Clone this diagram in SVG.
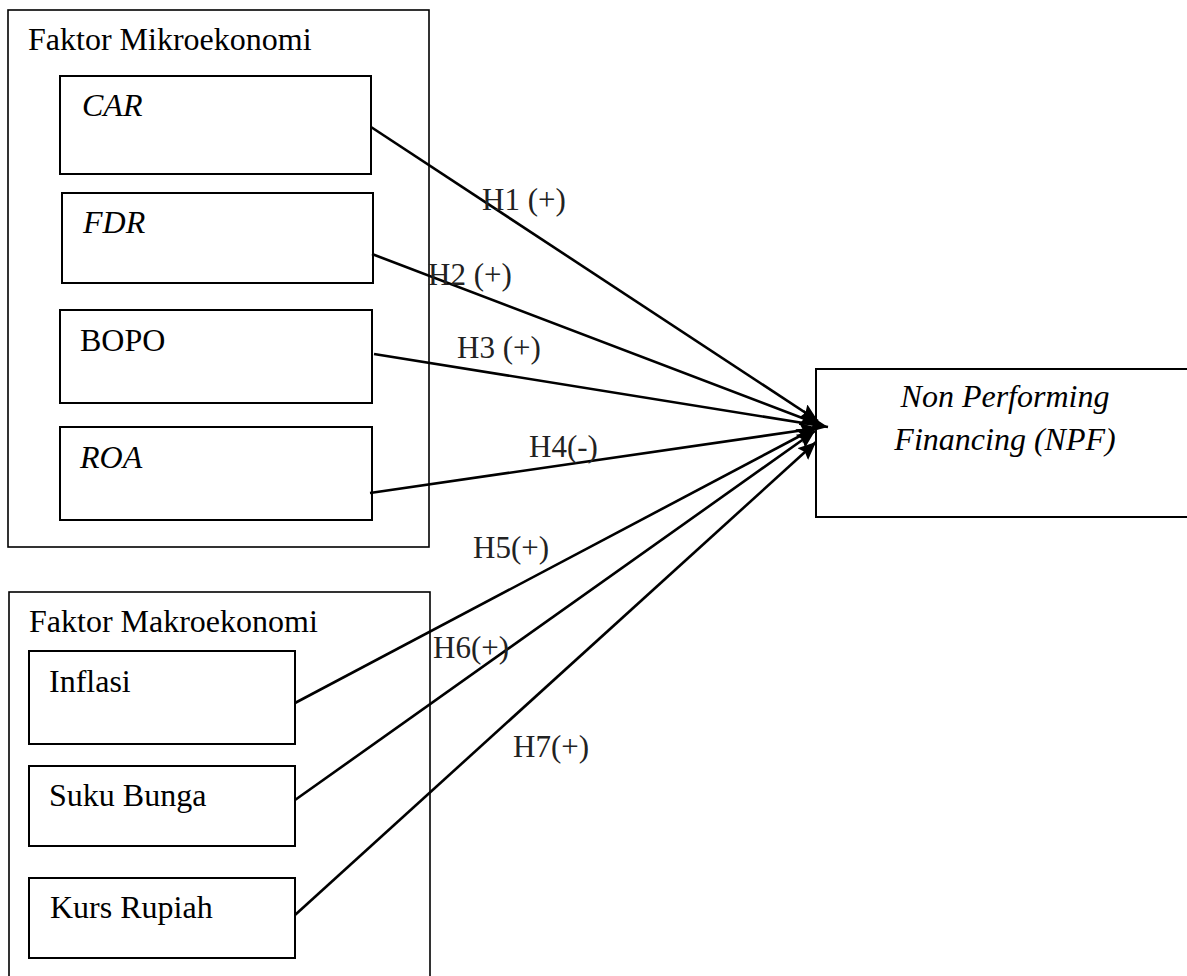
<svg xmlns="http://www.w3.org/2000/svg" width="1187" height="976" viewBox="0 0 1187 976">
  <defs>
    <style>
      .box { fill: #fff; stroke: #000; stroke-width: 2; }
      .grp { fill: none; stroke: #000; stroke-width: 1.6; }
      .t { font-family: "Liberation Serif", "Times New Roman", serif; font-size: 32px; fill: #000; }
      .i { font-style: italic; }
      .lbl { font-family: "Liberation Serif", "Times New Roman", serif; font-size: 31px; fill: #222; }
      .con { fill: none; stroke: #000; stroke-width: 2.6; marker-end: url(#ah); }
    </style>
    <marker id="ah" markerUnits="userSpaceOnUse" markerWidth="20" markerHeight="16" refX="18" refY="8" orient="auto">
      <path d="M0,0 L18,8 L0,16 L3,8 Z" fill="#000"/>
    </marker>
  </defs>
  <rect width="1187" height="976" fill="#fff"/>

  <g id="faktor-mikroekonomi">
    <rect class="grp" x="8" y="10" width="421" height="537"/>
    <text class="t" x="28" y="50">Faktor Mikroekonomi</text>
  </g>
  <g id="car">
    <rect class="box" x="60" y="76" width="311" height="98"/>
    <text class="t i" x="82" y="116">CAR</text>
  </g>
  <g id="fdr">
    <rect class="box" x="62" y="193" width="311" height="90"/>
    <text class="t i" x="83" y="233">FDR</text>
  </g>
  <g id="bopo">
    <rect class="box" x="60" y="310" width="312" height="93"/>
    <text class="t" x="80" y="351">BOPO</text>
  </g>
  <g id="roa">
    <rect class="box" x="60" y="427" width="312" height="93"/>
    <text class="t i" x="80" y="468">ROA</text>
  </g>

  <g id="faktor-makroekonomi">
    <rect class="grp" x="9" y="592" width="421" height="400"/>
    <text class="t" x="29" y="632">Faktor Makroekonomi</text>
  </g>
  <g id="inflasi">
    <rect class="box" x="29" y="651" width="266" height="93"/>
    <text class="t" x="49" y="692">Inflasi</text>
  </g>
  <g id="suku-bunga">
    <rect class="box" x="29" y="766" width="266" height="80"/>
    <text class="t" x="49" y="806">Suku Bunga</text>
  </g>
  <g id="kurs-rupiah">
    <rect class="box" x="29" y="878" width="266" height="80"/>
    <text class="t" x="50" y="918">Kurs Rupiah</text>
  </g>

  <g id="npf">
    <rect class="box" x="816" y="369" width="400" height="148"/>
    <text class="t i" x="1005" y="407" text-anchor="middle">Non Performing</text>
    <text class="t i" x="1005" y="450" text-anchor="middle">Financing (NPF)</text>
  </g>

  <g id="connectors">
    <line class="con" x1="371" y1="127" x2="818" y2="421"/>
    <line class="con" x1="372" y1="254" x2="818" y2="424"/>
    <line class="con" x1="374" y1="354" x2="828" y2="427"/>
    <line class="con" x1="370" y1="493" x2="818" y2="428"/>
    <line class="con" x1="295" y1="703" x2="815" y2="428"/>
    <line class="con" x1="295" y1="800" x2="815" y2="431"/>
    <line class="con" x1="295" y1="915" x2="816" y2="442"/>
    <text class="lbl" x="482" y="210">H1 (+)</text>
    <text class="lbl" x="428" y="285">H2 (+)</text>
    <text class="lbl" x="457" y="358">H3 (+)</text>
    <text class="lbl" x="529" y="457">H4(-)</text>
    <text class="lbl" x="473" y="558">H5(+)</text>
    <text class="lbl" x="433" y="658">H6(+)</text>
    <text class="lbl" x="513" y="757">H7(+)</text>
  </g>
</svg>
